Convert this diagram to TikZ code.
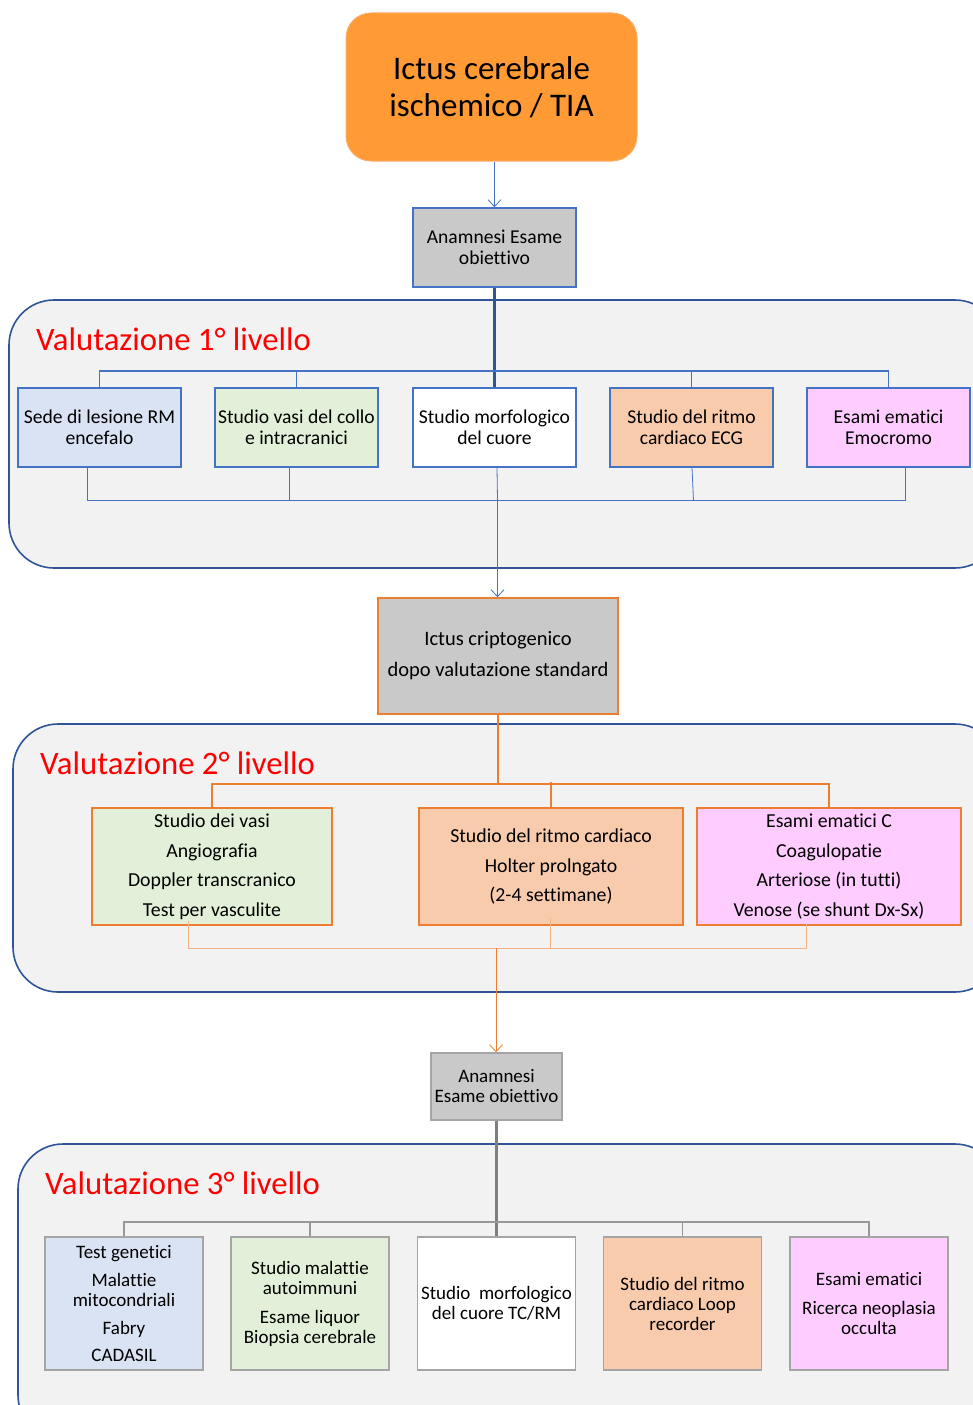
\documentclass[tikz,border=0pt]{standalone}
\usepackage{fontspec}
\setmainfont{Carlito}[Ligatures=NoCommon]
\usetikzlibrary{arrows.meta}
\definecolor{topfill}{HTML}{FF9A35}
\definecolor{topdraw}{HTML}{F8AE6A}
\definecolor{bluedraw}{HTML}{4472C4}
\definecolor{contdraw}{HTML}{2F5597}
\definecolor{contfill}{HTML}{F2F2F2}
\definecolor{grayfill}{HTML}{C9C9C9}
\definecolor{graydraw}{HTML}{A5A5A5}
\definecolor{grayline}{HTML}{7F7F7F}
\definecolor{orangedraw}{HTML}{ED7D31}
\definecolor{orangelight}{HTML}{F4B183}
\definecolor{fblue}{HTML}{DAE3F3}
\definecolor{fgreen}{HTML}{E2F0D9}
\definecolor{fpeach}{HTML}{F8CBAD}
\definecolor{fpink}{HTML}{FFCCFF}
\tikzset{
  box/.style={draw, line width=1.6pt, inner sep=0pt, align=center, text=black},
  lvone/.style={box, draw=bluedraw, minimum width=163pt, minimum height=79pt, font=\fontsize{19.6}{21}\selectfont},
  lvtwo/.style={box, draw=orangedraw, minimum height=117pt, font=\fontsize{19.8}{29.5}\selectfont},
  lvthree/.style={box, draw=graydraw, minimum width=158pt, minimum height=133pt, font=\fontsize{19}{20}\selectfont},
  container/.style={draw=contdraw, fill=contfill, line width=1.6pt, rounded corners=45pt},
  title/.style={anchor=base west, inner sep=0pt, text=red, font=\fontsize{32.7}{33}\selectfont},
  arr/.style={-{Straight Barb[length=7pt,width=13pt,line width=0.8pt]}},
}
\begin{document}
\begin{tikzpicture}[x=1pt,y=-1pt]
\useasboundingbox (0,0) rectangle (973,1405);
\clip (0,0) rectangle (973,1405);

% containers
\draw[container] (9,300) rectangle (1000,568);
\draw[container] (13,724) rectangle (1000,992);
\draw[container] (18,1144) rectangle (1000,1440);

\node[title] (t1) at (36,350) {Valutazione 1° livello};
\node[title] (t2) at (40,774) {Valutazione 2° livello};
\node[title] (t3) at (45,1194) {Valutazione 3° livello};

% top
\node[box, draw=topdraw, fill=topfill, line width=1pt, rounded corners=25pt,
      minimum width=291pt, minimum height=148pt, font=\fontsize{33}{37}\selectfont]
      (top) at (491.5,87) {Ictus cerebrale\\ischemico / TIA};

\node[lvone, fill=grayfill] (an1) at (494.5,247.5) {Anamnesi Esame\\obiettivo};

\draw[arr, bluedraw, line width=0.8pt] (top.south -| an1.north) -- (an1.north);

% level 1
\node[lvone, fill=fblue]  (a1) at (99.5,427.5) {Sede di lesione RM\\encefalo};
\node[lvone, fill=fgreen] (a2) at (296.5,427.5) {Studio vasi del collo\\e intracranici};
\node[lvone, fill=white]  (a3) at (494.5,427.5) {Studio morfologico\\del cuore};
\node[lvone, fill=fpeach] (a4) at (691.5,427.5) {Studio del ritmo\\cardiaco ECG};
\node[lvone, fill=fpink]  (a5) at (888.5,427.5) {Esami ematici\\Emocromo};

\draw[contdraw, line width=2.2pt] (an1.south) -- (a3.north);
\draw[bluedraw, line width=1.6pt] (a1.north) -- ++(0,-16) -| (a5.north);
\draw[bluedraw, line width=1.6pt] (a2.north) -- ++(0,-16);
\draw[bluedraw, line width=1.6pt] (a4.north) -- ++(0,-16);

\coordinate (j1) at (497.5,500);
\draw[bluedraw, line width=0.8pt] ([xshift=-12.5pt]a1.south) |- (j1);
\draw[bluedraw, line width=0.8pt] ([xshift=-7.5pt]a2.south) -- ++(0,33);
\draw[bluedraw, line width=0.8pt] ([xshift=16.5pt]a5.south) |- (j1);
\draw[bluedraw, line width=0.8pt] ([xshift=0.5pt]a4.south) -- ++(1.5,33);
\draw[bluedraw, line width=0.8pt] ([xshift=2.5pt]a3.south) -- (j1);

% cryptogenic
\node[box, draw=orangedraw, fill=grayfill, minimum width=240pt, minimum height=116pt,
      font=\fontsize{20.5}{31}\selectfont] (cr) at (498,656) {Ictus criptogenico\\dopo valutazione standard};
\draw[arr, bluedraw, line width=0.8pt] (j1) -- (cr.north -| j1);

% level 2
\node[lvtwo, fill=fgreen, minimum width=240pt] (b1) at (212,866.5) {Studio dei vasi\\Angiografia\\Doppler transcranico\\Test per vasculite};
\node[lvtwo, fill=fpeach, minimum width=264pt] (b2) at (551,866.5) {Studio del ritmo cardiaco\\Holter prolngato\\(2-4 settimane)};
\node[lvtwo, fill=fpink, minimum width=264pt] (b3) at (829,866.5) {Esami ematici C\\Coagulopatie\\Arteriose (in tutti)\\Venose (se shunt Dx-Sx)};

\draw[orangedraw, line width=1.6pt] (cr.south) -- ++(0,69) coordinate (h2);
\draw[orangedraw, line width=1.6pt] (b1.north) |- (h2) -| (b3.north);
\draw[orangedraw, line width=1.6pt] (b2.north) -- ++(0,-25);

\coordinate (j2) at (496,948);
\draw[orangelight, line width=1pt] ([xshift=-24pt,yshift=5pt]b1.south) |- (j2);
\draw[orangelight, line width=1pt] ([xshift=-23pt,yshift=2pt]b3.south) |- (j2);
\draw[orangelight, line width=1pt] ([xshift=-1pt,yshift=7pt]b2.south) -- ++(0,30);

\node[box, draw=graydraw, fill=grayfill, minimum width=131pt, minimum height=67pt,
      font=\fontsize{19}{20}\selectfont] (an3) at (496.5,1086.5) {Anamnesi\\Esame obiettivo};
\draw[arr, orangedraw, line width=0.8pt] (j2) -- (an3.north -| j2);

% level 3
\node[lvthree, fill=fblue]  (c1) at (124,1303.5) {Test genetici\\[8pt]Malattie\\mitocondriali\\[8pt]Fabry\\[7pt]CADASIL};
\node[lvthree, fill=fgreen] (c2) at (310,1303.5) {Studio malattie\\autoimmuni\\[9pt]Esame liquor\\Biopsia cerebrale};
\node[lvthree, fill=white]  (c3) at (496.5,1303.5) {Studio~~morfologico\\del cuore TC/RM};
\node[lvthree, fill=fpeach] (c4) at (682.5,1303.5) {Studio del ritmo\\cardiaco Loop\\recorder};
\node[lvthree, fill=fpink]  (c5) at (869,1303.5) {Esami ematici\\[9pt]Ricerca neoplasia\\occulta};

\draw[grayline, line width=2.2pt] (an3.south) -- (c3.north);
\draw[grayline!80, line width=1.8pt] (c1.north) -- ++(0,-14) -| (c5.north);
\draw[grayline!80, line width=1.8pt] (c2.north) -- ++(0,-14);
\draw[grayline!80, line width=1.8pt] (c4.north) -- ++(0,-14);
\end{tikzpicture}
\end{document}
